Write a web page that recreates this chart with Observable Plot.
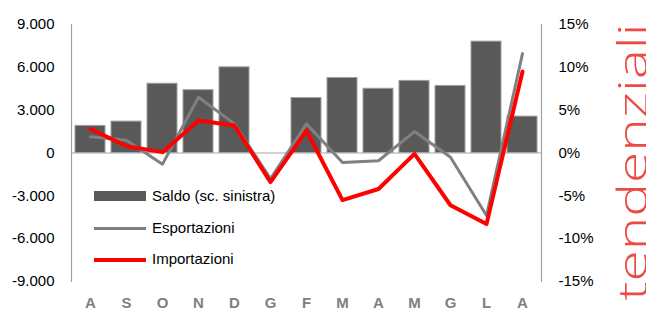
<!DOCTYPE html>
<html>
<head>
<meta charset="utf-8">
<script src="https://cdn.jsdelivr.net/npm/d3@7"></script>
<script src="https://cdn.jsdelivr.net/npm/@observablehq/plot@0.6"></script>
<style>
  html, body { margin: 0; padding: 0; background: #fff; }
  #wrap { position: relative; width: 646px; height: 311px; font-family: "Liberation Sans", Arial, sans-serif; }
  .leg { position: absolute; left: 94px; font-size: 15px; color: #000; }
  .leg .sw { position: absolute; left: 0; width: 52px; }
  .leg .lab { position: absolute; left: 58px; top: 0; white-space: nowrap; line-height: 18px; }
</style>
</head>
<body>
<div id="wrap"></div>
<script>
const months = ["A","S","O","N","D","G","F","M","A","M","G","L","A"];
const saldo = [1900, 2200, 4850, 4400, 6000, 0, 3850, 5250, 4500, 5050, 4700, 7800, 2550];
const esportazioni = [1.9, 1.5, -1.3, 6.5, 3.4, -3.0, 3.4, -1.1, -0.9, 2.5, -0.5, -7.3, 11.6];
const importazioni = [2.8, 0.8, 0.1, 3.8, 3.2, -3.4, 2.6, -5.5, -4.2, -0.1, -6.1, -8.3, 9.5];
const leftTicks = [-9000, -6000, -3000, 0, 3000, 6000, 9000];
const rightTicks = [-15, -10, -5, 0, 5, 10, 15];
const legendItems = ["Saldo (sc. sinistra)", "Esportazioni", "Importazioni"];
const sideLabel = "tendenziali";

const k = 9000 / 15; // right scale -> left scale
const data = months.map((m, i) => ({i, m, saldo: saldo[i], exp: esportazioni[i], imp: importazioni[i]}));
const fmtK = d => (d < 0 ? "-" : "") + String(Math.abs(d)).replace(/\B(?=(\d{3})+(?!\d))/g, ".");

const chart = Plot.plot({
  width: 646,
  height: 311,
  marginLeft: 71,
  marginRight: 105,
  marginTop: 24,
  marginBottom: 30,
  style: {fontFamily: "'Liberation Sans', Arial, sans-serif", fontSize: "15px", color: "#000", background: "#fff"},
  x: {type: "band", domain: d3.range(months.length), paddingInner: 0.17, paddingOuter: 0.08},
  y: {domain: [-9000, 9000]},
  marks: [
    Plot.barY(data, {x: "i", y: "saldo", fill: "#595959", stroke: "#a0a0a0", strokeWidth: 1}),
    Plot.ruleY([0], {stroke: "#a6a6a6", strokeWidth: 1.2}),
    Plot.frame({anchor: "left", stroke: "#a0a0a0", strokeWidth: 1.2}),
    Plot.frame({anchor: "right", stroke: "#a0a0a0", strokeWidth: 1.2}),
    Plot.line(data, {x: "i", y: d => d.exp * k, stroke: "#808080", strokeWidth: 3}),
    Plot.line(data, {x: "i", y: d => d.imp * k, stroke: "#ff0000", strokeWidth: 4}),
    Plot.axisY({anchor: "left", ticks: leftTicks, tickSize: 0, tickPadding: 17, tickFormat: fmtK, label: null, fontSize: 15}),
    Plot.axisY({anchor: "right", ticks: rightTicks.map(v => v * k), tickSize: 0, tickPadding: 17, tickFormat: d => (d / k) + "%", label: null, fontSize: 15}),
    Plot.axisX({tickSize: 0, tickPadding: 16, tickFormat: i => months[i], label: null, fontWeight: "bold", fill: "#808080", fontSize: 15}),
    Plot.text([sideLabel], {text: d => d, frameAnchor: "bottom-right", textAnchor: "start", lineAnchor: "bottom", rotate: -90, dx: 105, dy: 19, fontSize: 41, fill: "#ec4a45", fontWeight: 300, fontFamily: "'Open Sans', Lato, sans-serif"})
  ]
});

const wrap = document.getElementById("wrap");
wrap.appendChild(chart);

// stretch the side label along the right edge
chart.querySelectorAll("text").forEach(t => {
  if (t.textContent === sideLabel) {
    t.setAttribute("textLength", 277);
    t.setAttribute("lengthAdjust", "spacingAndGlyphs");
  }
});

// legend
const legTops = [187, 219, 250];
const swatches = [
  {bg: "#595959", h: 10, off: 4},
  {bg: "#808080", h: 3, off: 8},
  {bg: "#ff0000", h: 4, off: 7.5}
];
legendItems.forEach((name, j) => {
  const d = document.createElement("div");
  d.className = "leg";
  d.style.top = legTops[j] + "px";
  const sw = document.createElement("div");
  sw.className = "sw";
  sw.style.background = swatches[j].bg;
  sw.style.height = swatches[j].h + "px";
  sw.style.top = swatches[j].off + "px";
  const lab = document.createElement("div");
  lab.className = "lab";
  lab.textContent = name;
  d.appendChild(sw);
  d.appendChild(lab);
  wrap.appendChild(d);
});
</script>
</body>
</html>
